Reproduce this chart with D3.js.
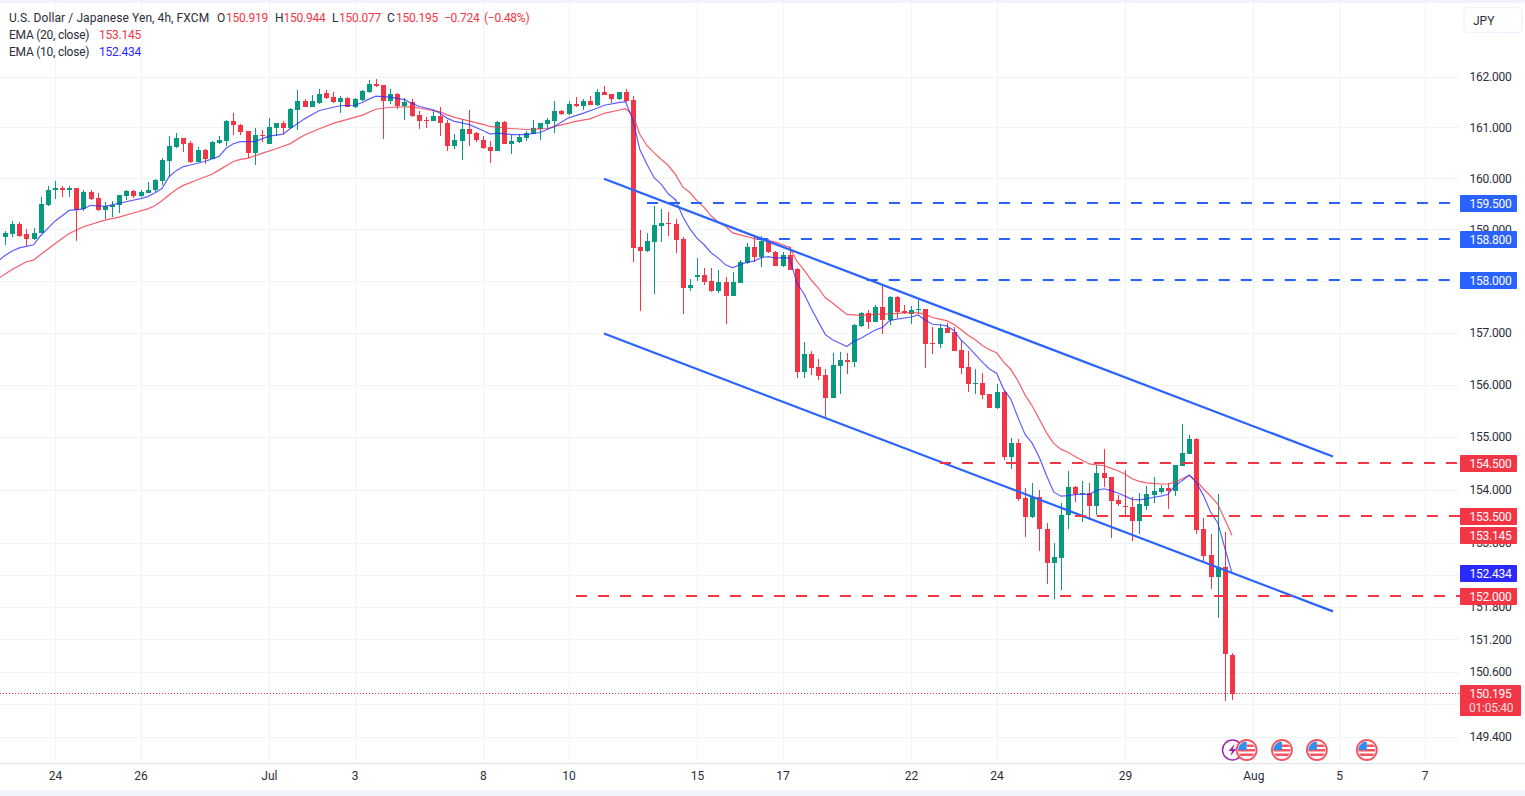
<!DOCTYPE html>
<html>
<head>
<meta charset="utf-8">
<title>USD/JPY 4h</title>
<script src="https://cdn.jsdelivr.net/npm/d3@7"></script>
<style>
  html, body { margin: 0; padding: 0; background: #fff; overflow: hidden; }
  text { font-family: Roboto, "Noto Sans", sans-serif; font-size: 12px; fill: #2a2e39; }
  .num { letter-spacing: -0.25px; }
  .domain { display: none; }
</style>
</head>
<body>
<div id="chart"></div>
<script>
// Candles (4h bars)
const opens = [158.86,158.90,159.11,158.90,158.82,158.92,159.48,159.76,159.81,159.76,
  159.80,159.40,159.73,159.62,159.38,159.43,159.47,159.65,159.75,159.65,
  159.72,159.76,159.95,160.34,160.62,160.79,160.70,160.32,160.56,160.38,
  160.70,160.74,161.13,161.05,160.93,160.50,160.85,160.68,160.99,161.09,
  160.98,161.35,161.52,161.41,161.48,161.69,161.61,161.51,161.59,161.41,
  161.55,161.70,161.86,161.84,161.53,161.67,161.43,161.51,161.25,161.15,
  161.13,161.23,161.09,160.64,160.74,160.96,160.90,160.76,160.62,160.54,
  161.11,160.68,160.72,160.80,160.88,160.96,161.06,161.13,161.33,161.27,
  161.47,161.43,161.53,161.45,161.70,161.67,161.57,161.70,161.55,158.66,
  158.57,158.76,159.07,159.13,159.11,158.82,157.87,158.08,158.12,158.00,
  157.81,157.98,157.71,157.96,158.35,158.66,158.47,158.78,158.56,158.29,
  158.51,158.23,156.24,156.58,156.33,156.18,155.74,156.36,156.48,156.43,
  157.13,157.38,157.21,157.49,157.24,157.68,157.41,157.35,157.43,157.45,
  156.80,156.78,157.09,157.01,156.67,156.33,156.02,156.04,155.82,155.56,
  155.85,154.62,154.88,153.85,153.49,153.87,153.27,152.62,152.71,153.53,
  154.06,153.92,153.94,153.70,154.32,154.25,153.81,153.70,153.68,153.42,
  153.70,153.91,153.96,154.04,153.98,154.45,154.68,154.96,153.26,152.77,
  152.37,152.55,150.919];
const highs = [158.96,159.16,159.14,159.01,159.03,159.64,159.84,159.95,159.85,159.84,
  159.81,159.77,159.76,159.72,159.53,159.55,159.68,159.77,159.76,159.77,
  159.92,159.99,160.39,160.83,160.90,160.80,160.73,160.61,160.58,160.74,
  160.83,161.15,161.28,161.07,160.94,160.98,160.95,161.19,161.09,161.13,
  161.38,161.74,161.57,161.64,161.76,161.74,161.70,161.63,161.61,161.59,
  161.74,161.94,161.96,161.85,161.76,161.69,161.59,161.57,161.33,161.21,
  161.35,161.41,161.15,160.88,161.17,161.35,160.92,160.84,160.74,161.13,
  161.12,160.86,160.88,160.94,161.15,161.09,161.19,161.53,161.35,161.53,
  161.61,161.57,161.63,161.76,161.82,161.67,161.70,161.76,161.63,158.99,
  158.93,159.46,159.40,159.34,159.21,158.86,158.04,158.45,158.25,158.25,
  158.20,158.08,158.18,158.41,158.74,158.86,158.88,158.82,158.58,158.55,
  158.66,158.25,156.81,156.65,156.50,156.29,156.60,156.62,156.60,157.17,
  157.40,157.43,157.53,157.90,157.71,157.71,157.53,157.51,157.62,157.46,
  157.11,157.16,157.18,157.11,156.86,156.65,156.29,156.23,155.83,156.01,
  155.89,154.98,154.96,154.04,154.13,154.00,153.37,152.99,153.76,154.36,
  154.08,154.17,154.13,154.47,154.77,154.25,153.91,154.38,153.87,153.94,
  154.08,154.25,154.10,154.13,154.47,155.24,155.03,154.98,153.46,153.16,
  153.93,153.20,150.944];
const lows = [158.70,158.85,158.85,158.68,158.80,158.92,159.46,159.60,159.64,159.64,
  158.77,159.36,159.58,159.36,159.21,159.24,159.32,159.58,159.61,159.64,
  159.71,159.74,159.87,160.03,160.59,160.51,160.30,160.31,160.28,160.37,
  160.68,160.64,160.85,160.86,160.39,160.26,160.72,160.68,160.83,160.87,
  160.97,160.95,161.40,161.40,161.46,161.57,161.49,161.29,161.40,161.39,
  161.53,161.69,161.80,160.78,161.47,161.37,161.15,161.21,160.96,160.98,
  161.13,160.84,160.54,160.58,160.35,160.64,160.72,160.58,160.29,160.54,
  160.68,160.48,160.70,160.74,160.88,160.76,160.96,160.90,161.25,161.25,
  161.41,161.35,161.45,161.43,161.65,161.49,161.55,161.51,158.37,157.41,
  158.56,157.75,158.76,158.88,158.53,157.36,157.81,158.00,157.92,157.79,
  157.77,157.17,157.71,157.96,158.33,158.37,158.27,158.53,158.29,158.27,
  158.21,156.12,156.12,156.18,156.08,155.39,155.74,155.82,156.20,156.33,
  157.11,157.07,157.21,156.98,157.15,157.28,157.36,157.16,157.35,156.31,
  156.58,156.71,157.00,156.65,156.21,155.85,155.83,155.72,155.56,155.54,
  154.56,154.39,153.79,153.12,153.46,152.84,152.24,151.96,152.11,153.26,
  153.77,153.39,153.44,153.53,154.06,153.10,153.70,153.53,153.04,153.16,
  153.62,153.75,153.93,153.64,153.88,154.45,154.68,153.16,152.65,152.13,
  151.60,150.07,150.077];
const closes = [158.92,159.11,158.88,158.82,158.93,159.50,159.77,159.81,159.76,159.80,
  159.38,159.73,159.60,159.38,159.45,159.48,159.67,159.75,159.65,159.74,
  159.77,159.97,160.36,160.64,160.79,160.68,160.32,160.56,160.38,160.72,
  160.76,161.13,161.04,160.92,160.50,160.85,160.83,161.01,161.09,160.99,
  161.37,161.52,161.41,161.52,161.67,161.59,161.51,161.59,161.41,161.57,
  161.72,161.86,161.82,161.53,161.67,161.43,161.51,161.23,161.13,161.14,
  161.23,161.08,160.64,160.76,160.96,160.88,160.76,160.60,160.54,161.11,
  160.68,160.74,160.81,160.90,160.98,161.08,161.15,161.33,161.27,161.47,
  161.43,161.53,161.45,161.70,161.65,161.57,161.70,161.53,158.64,158.57,
  158.78,159.09,159.13,159.11,158.80,157.87,157.92,158.12,157.98,157.81,
  157.98,157.71,157.98,158.37,158.66,158.47,158.78,158.55,158.29,158.51,
  158.21,156.24,156.58,156.31,156.16,155.74,156.37,156.48,156.43,157.15,
  157.38,157.21,157.49,157.24,157.68,157.40,157.38,157.43,157.45,156.78,
  156.78,157.09,157.00,156.65,156.31,156.01,156.04,155.80,155.56,155.85,
  154.62,154.88,153.83,153.49,153.87,153.26,152.62,152.73,153.53,154.06,
  153.93,153.94,153.70,154.32,154.23,153.79,153.73,153.68,153.42,153.73,
  153.93,153.98,154.04,153.98,154.47,154.70,154.96,153.24,152.75,152.37,
  152.55,150.92,150.195];

// EMA 10 (bar number, price) read at the visible bends
const ema10Bars = [-1,0,1,2,4,5,7,9,11,12,14,16,19,20,21,22,23,24,25,26,28,30,31,32,33,35,37,39,40,42,44,46,47,49,50,51,52,54,56,57,58,60,61,62,63,65,67,68,69,71,73,75,76,77,79,81,83,84,86,87,88,89,90,91,92,93,94,95,96,97,98,99,100,101,102,103,104,105,106,107,108,109,110,111,112,113,114,115,116,118,119,120,121,122,123,124,125,127,128,129,130,131,132,133,134,135,136,137,138,139,140,141,142,143,144,145,146,147,148,149,150,151,152,153,154,155,156,157,158,159,160,161,162,163,164,165,166,167,168,169,170,171,172];
const ema10Vals = [158.38,158.49,158.58,158.64,158.70,158.88,159.16,159.37,159.40,159.47,159.45,159.51,159.60,159.64,159.71,159.80,160.03,160.15,160.23,160.26,160.33,160.43,160.59,160.68,160.72,160.72,160.83,160.87,160.98,161.17,161.33,161.40,161.43,161.44,161.49,161.56,161.62,161.60,161.55,161.48,161.42,161.35,161.28,161.18,161.12,161.06,160.94,160.87,160.89,160.86,160.86,160.90,160.96,161.02,161.19,161.28,161.38,161.44,161.49,161.51,161.15,160.56,160.27,160.01,159.88,159.69,159.58,159.25,159.01,158.83,158.70,158.54,158.44,158.31,158.25,158.31,158.36,158.38,158.45,158.47,158.44,158.45,158.44,157.96,157.75,157.47,157.21,156.96,156.86,156.73,156.83,156.89,156.97,157.05,157.10,157.23,157.26,157.30,157.34,157.24,157.16,157.15,157.13,157.04,156.86,156.73,156.58,156.43,156.30,156.22,155.91,155.72,155.37,155.05,154.88,154.61,154.27,153.96,153.88,153.89,153.91,153.92,153.91,153.99,154.02,153.99,153.94,153.88,153.82,153.81,153.83,153.86,153.88,153.91,154.08,154.17,154.28,154.14,153.89,153.58,153.38,152.90,152.434];

// EMA 20 (bar number, price)
const ema20Bars = [-1,1,3,4,5,7,9,11,14,16,18,20,21,22,23,24,25,27,29,30,32,33,34,36,38,40,41,42,44,46,48,50,51,52,54,57,59,61,62,63,65,67,68,70,73,76,78,80,82,84,86,87,88,89,90,91,92,93,94,95,96,97,98,99,100,101,102,104,105,107,108,109,110,111,112,113,114,115,116,117,118,120,122,124,126,128,129,130,131,132,133,134,135,136,137,138,139,140,141,142,143,144,145,146,147,148,149,150,151,152,153,154,155,156,157,158,159,160,161,162,163,164,165,166,167,168,169,170,171,172];
const ema20Vals = [158.04,158.22,158.37,158.40,158.51,158.72,158.92,159.05,159.18,159.24,159.32,159.40,159.46,159.56,159.67,159.78,159.86,159.97,160.08,160.16,160.33,160.37,160.39,160.49,160.58,160.68,160.77,160.85,160.97,161.08,161.16,161.24,161.30,161.36,161.40,161.41,161.36,161.31,161.25,161.20,161.13,161.06,161.02,160.99,160.96,160.98,161.05,161.12,161.17,161.28,161.34,161.37,161.25,160.86,160.64,160.50,160.37,160.25,160.07,159.83,159.72,159.56,159.43,159.26,159.14,159.06,158.93,158.86,158.82,158.78,158.75,158.70,158.65,158.38,158.21,158.02,157.86,157.67,157.57,157.46,157.35,157.33,157.35,157.36,157.38,157.38,157.35,157.29,157.26,157.23,157.16,157.06,156.95,156.86,156.75,156.67,156.61,156.43,156.29,156.07,155.80,155.59,155.34,155.08,154.88,154.77,154.71,154.63,154.56,154.49,154.47,154.46,154.41,154.36,154.30,154.21,154.16,154.13,154.12,154.11,154.11,154.14,154.21,154.27,154.17,154.02,153.88,153.73,153.44,153.145];

// Price axis and date axis
const priceTicks = [162,161,160,159,158,157,156,155,154,153,152.4,151.8,151.2,150.6,150,149.4];
const hiddenPriceTicks = [152.4, 150];
const dateTickBars = [7,19,37,49,67,79,97,109,127,139,157,175,187,199];
const dateTickLabels = ['24','26','Jul','3','8','10','15','17','22','24','29','Aug','5','7'];

// Drawn channel: start bar, start price, end bar, end price
const channelStartBars = [83.96, 83.96];
const channelStartPrices = [159.99, 156.98];
const channelEndBars = [186.15, 186.15];
const channelEndPrices = [154.63, 151.72];

// Horizontal levels and the bar they start from
const blueLevels = [159.5, 158.8, 158];
const blueLevelBars = [89.99, 105.4, 120.8];
const redLevels = [154.5, 153.5, 152];
const redLevelBars = [131.06, 149.98, 80.04];

const lastPrice = 150.195;
const lastEma20 = 153.145;
const lastEma10 = 152.434;

// Economic calendar icons
const newsBar = 172.07;
const flagBars = [174.05, 179, 183.9, 190.9];

const GREEN = '#089981', RED = '#f23645', BLUE = '#2962ff', EMA_BLUE = '#2a2aff';
const width = 1525, height = 796;
const plotRight = 1460, axisY = 763.5;

const svg = d3.select('#chart').append('svg')
  .attr('width', width).attr('height', height).style('display', 'block');

const x = d3.scaleLinear().domain([0, 172]).range([5, 1232]);
const y = d3.scaleLog().domain([149.4, 162]).range([737, 77]);

// Outer bands
svg.append('rect').attr('width', width).attr('height', 3).attr('fill', '#f0f3fa');
svg.append('rect').attr('y', 790).attr('width', width).attr('height', 6).attr('fill', '#f0f3fa');

svg.append('defs').append('clipPath').attr('id', 'plot')
  .append('rect').attr('x', 0).attr('y', 3).attr('width', plotRight).attr('height', axisY - 3);

// Grid
const grid = svg.append('g').attr('stroke', '#f0f3fa').attr('shape-rendering', 'crispEdges');
grid.selectAll('.h').data(priceTicks).enter().append('line')
  .attr('x1', 0).attr('x2', plotRight)
  .attr('y1', d => Math.round(y(d)) + 0.5).attr('y2', d => Math.round(y(d)) + 0.5);
grid.selectAll('.v').data(dateTickBars).enter().append('line')
  .attr('x1', d => Math.round(x(d)) + 0.5).attr('x2', d => Math.round(x(d)) + 0.5)
  .attr('y1', 3).attr('y2', axisY);

// Axes; two price ticks sit fully behind the value labels, so they get no text
const priceAxis = d3.axisRight(y).tickValues(priceTicks).tickSize(0).tickPadding(0)
  .tickFormat(d => hiddenPriceTicks.includes(d) ? '' : d3.format('.3f')(d));
svg.append('g').attr('transform', `translate(1469.5,0)`).call(priceAxis)
  .selectAll('text').attr('class', 'num');

const dateAxis = d3.axisBottom(x).tickValues(dateTickBars).tickSize(0).tickPadding(8)
  .tickFormat((d, i) => dateTickLabels[i]);
svg.append('g').attr('transform', `translate(0,${axisY})`).call(dateAxis);
svg.append('line').attr('x1', 0).attr('x2', width).attr('y1', axisY).attr('y2', axisY)
  .attr('stroke', '#e0e3eb').attr('shape-rendering', 'crispEdges');
svg.selectAll('.tick text').style('font-size', '12px').style('font-family', 'Roboto, sans-serif').attr('fill', '#2a2e39');

const plot = svg.append('g').attr('clip-path', 'url(#plot)');

// Last price line
plot.append('line').attr('x1', 0).attr('x2', plotRight)
  .attr('y1', Math.round(y(lastPrice)) - 0.5).attr('y2', Math.round(y(lastPrice)) - 0.5)
  .attr('stroke', RED).attr('stroke-dasharray', '1 2');

// Candles
const bars = d3.range(opens.length);
const colour = i => closes[i] >= opens[i] ? GREEN : RED;
const cg = plot.append('g').attr('shape-rendering', 'crispEdges');
cg.selectAll('.wick').data(bars).enter().append('rect')
  .attr('x', i => Math.round(x(i)))
  .attr('width', 1)
  .attr('y', i => y(highs[i]))
  .attr('height', i => y(lows[i]) - y(highs[i]))
  .attr('fill', colour);
cg.selectAll('.body').data(bars).enter().append('rect')
  .attr('x', i => Math.round(x(i)) - 2)
  .attr('width', 5)
  .attr('y', i => y(Math.max(opens[i], closes[i])))
  .attr('height', i => Math.max(1, Math.abs(y(opens[i]) - y(closes[i]))))
  .attr('fill', colour);

// EMAs
const emaLine = (bs, vs) => d3.line().x(i => x(bs[i])).y(i => y(vs[i]))(d3.range(bs.length));
plot.append('path').attr('d', emaLine(ema20Bars, ema20Vals))
  .attr('fill', 'none').attr('stroke', RED).attr('stroke-width', 1.2).attr('stroke-opacity', 0.8);
plot.append('path').attr('d', emaLine(ema10Bars, ema10Vals))
  .attr('fill', 'none').attr('stroke', EMA_BLUE).attr('stroke-width', 1.2).attr('stroke-opacity', 0.75);

// Channel lines
plot.selectAll('.channel').data(channelStartBars).enter().append('line')
  .attr('x1', (d, i) => x(channelStartBars[i])).attr('y1', (d, i) => y(channelStartPrices[i]))
  .attr('x2', (d, i) => x(channelEndBars[i])).attr('y2', (d, i) => y(channelEndPrices[i]))
  .attr('stroke', BLUE).attr('stroke-width', 2.2);

// Levels
function drawLevels(levels, startBars, col) {
  plot.selectAll(null).data(levels).enter().append('line')
    .attr('x1', (d, i) => x(startBars[i])).attr('x2', plotRight)
    .attr('y1', d => Math.floor(y(d))).attr('y2', d => Math.floor(y(d)))
    .attr('stroke', col).attr('stroke-width', 2).attr('stroke-dasharray', '11 11');
}
drawLevels(blueLevels, blueLevelBars, BLUE);
drawLevels(redLevels, redLevelBars, RED);

// Price labels on the axis
function priceLabel(price, col) {
  const py = Math.floor(y(price));
  svg.append('rect').attr('x', plotRight).attr('y', py - 8).attr('width', 57).attr('height', 17)
    .attr('fill', col).attr('rx', 1);
  svg.append('text').attr('class', 'num').attr('x', 1469.5).attr('y', py + 4.5).style('fill', '#fff').text(price.toFixed(3));
}
blueLevels.forEach(d => priceLabel(d, BLUE));
priceLabel(lastEma10, EMA_BLUE);
priceLabel(lastEma20, RED);
redLevels.forEach(d => priceLabel(d, RED));

// Last price with countdown
const lastY = Math.floor(y(lastPrice));
svg.append('rect').attr('x', plotRight).attr('y', lastY - 8).attr('width', 61).attr('height', 31)
  .attr('fill', RED).attr('rx', 1);
svg.append('text').attr('class', 'num').attr('x', 1469.5).attr('y', lastY + 4.5).style('fill', '#fff').text(lastPrice.toFixed(3));
svg.append('text').attr('class', 'num').attr('x', 1469).attr('y', lastY + 18.5).style('fill', '#fff').style('opacity', 0.8).text('01:05:40');

// Currency button
svg.append('rect').attr('x', 1464).attr('y', 7.5).attr('width', 58).attr('height', 25).attr('rx', 4)
  .attr('fill', '#fff').attr('stroke', '#f0f3fa').attr('stroke-width', 1.5);
svg.append('text').attr('x', 1473).attr('y', 24.5).text('JPY');

// Legend
const legendFill = '#2a2e39';
function legendText(tx, ty, str, col, cls) {
  svg.append('text').attr('class', cls || null).attr('x', tx).attr('y', ty).style('fill', col).text(str);
}
svg.append('text').attr('x', 9).attr('y', 22).style('fill', legendFill).style('letter-spacing', '0.08px')
  .text('U.S. Dollar / Japanese Yen, 4h, FXCM');
legendText(217, 22, 'O', legendFill); legendText(226, 22, '150.919', RED, 'num');
legendText(275, 22, 'H', legendFill); legendText(283.5, 22, '150.944', RED, 'num');
legendText(332, 22, 'L', legendFill); legendText(339, 22, '150.077', RED, 'num');
legendText(387, 22, 'C', legendFill); legendText(396, 22, '150.195', RED, 'num');
legendText(444, 22, '−0.724', RED, 'num'); legendText(484, 22, '(−0.48%)', RED, 'num');
legendText(9, 39, 'EMA (20, close)', legendFill, 'num'); legendText(99, 39, '153.145', RED, 'num');
legendText(9, 56, 'EMA (10, close)', legendFill, 'num'); legendText(99, 56, '152.434', EMA_BLUE, 'num');

// Calendar icons
const iconY = 750;
svg.append('clipPath').attr('id', 'flag').append('circle').attr('r', 8.5);

const news = svg.append('g').attr('transform', `translate(${x(newsBar)},${iconY})`);
news.append('circle').attr('r', 10).attr('fill', '#fff').attr('stroke', '#9c27b0').attr('stroke-width', 1.5);
news.append('path').attr('d', 'M2,-6 L-4,1 L-0.5,1 L-2,6 L4,-1 L0.5,-1 Z').attr('fill', '#9c27b0');

flagBars.forEach(b => {
  const g = svg.append('g').attr('transform', `translate(${x(b)},${iconY})`);
  g.append('circle').attr('r', 10).attr('fill', '#fff').attr('stroke', RED).attr('stroke-opacity', 0.85).attr('stroke-width', 1.8);
  const f = g.append('g').attr('clip-path', 'url(#flag)');
  f.append('rect').attr('x', -9).attr('y', -9).attr('width', 18).attr('height', 18).attr('fill', '#fff');
  f.append('rect').attr('x', -9).attr('y', -1).attr('width', 18).attr('height', 2.5).attr('fill', '#f7525f');
  f.append('rect').attr('x', -9).attr('y', 3.5).attr('width', 18).attr('height', 2.5).attr('fill', '#f7525f');
  f.append('rect').attr('x', 0).attr('y', -5.5).attr('width', 9).attr('height', 2.5).attr('fill', '#f7525f');
  f.append('rect').attr('x', -9).attr('y', -9).attr('width', 9).attr('height', 9).attr('fill', '#2f8ff0');
});
</script>
</body>
</html>
